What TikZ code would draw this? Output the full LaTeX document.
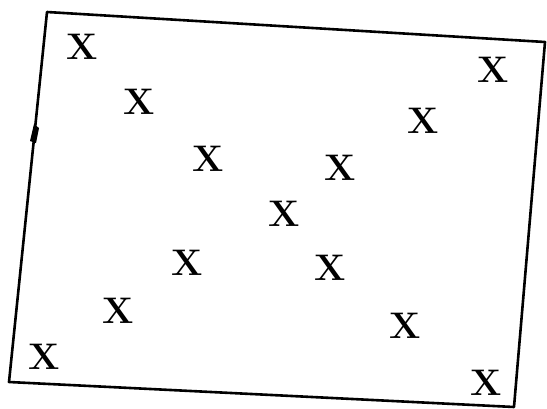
\documentclass[tikz,border=0pt]{standalone}
\usepackage{tikz}
\usetikzlibrary{positioning}
\tikzset{
  mark x/.style={inner sep=0pt, font=\fontsize{37}{37}\selectfont\bfseries},
  frame line/.style={line width=2.6pt, line join=round}
}
\begin{document}
\begin{tikzpicture}[x=1pt, y=-1pt]
  \useasboundingbox (0,0) rectangle (547,408);
  % Frame corners
  \coordinate (tl) at (47,12);
  \coordinate (tr) at (545,42);
  \coordinate (br) at (514,407);
  \coordinate (bl) at (9,382);
  \draw[frame line] (tl) -- (tr) -- (br) -- (bl) -- cycle;
  % Small kink on the left side
  \fill (34,124) -- (39,128) -- (36,143) -- (30,141) -- cycle;
  % Marks
  \node[mark x] (x1) at (82,47) {X};
  \node[mark x] (x2) at (493,70) {X};
  \node[mark x] (x3) at (139,102) {X};
  \node[mark x] (x4) at (423,121) {X};
  \node[mark x] (x5) at (208,159) {X};
  \node[mark x] (x6) at (340,168) {X};
  \node[mark x] (x7) at (284,214) {X};
  \node[mark x] (x8) at (187,263) {X};
  \node[mark x] (x9) at (330,268) {X};
  \node[mark x] (x10) at (118,311) {X};
  \node[mark x] (x11) at (405,326) {X};
  \node[mark x] (x12) at (44,357) {X};
  \node[mark x] (x13) at (486,383) {X};
\end{tikzpicture}
\end{document}
